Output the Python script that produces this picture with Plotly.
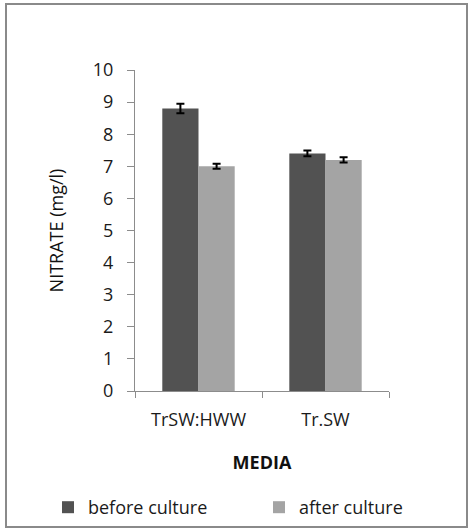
import plotly.graph_objects as go

categories = ["TrSW:HWW", "Tr.SW"]
before_culture = [8.8, 7.4]
after_culture = [7.0, 7.2]
before_err = [0.15, 0.09]
after_err = [0.08, 0.08]
y_ticks = list(range(0, 11))

W, H = 469, 530
L, R, T, B = 135, 80, 70, 139
pw, ph = W - L - R, H - T - B

def px_x(x):
    return (x - L) / pw

def px_y(y):
    return (H - B - y) / ph

font_family = "Open Sans, Lato, sans-serif"
FS = 18

fig = go.Figure()
fig.add_trace(go.Bar(
    name="before culture", x=categories, y=before_culture, legend="legend",
    marker=dict(color="#525252", line=dict(width=0)),
    error_y=dict(type="data", array=before_err, color="#000000", thickness=2, width=4),
))
fig.add_trace(go.Bar(
    name="after culture", x=categories, y=after_culture, legend="legend2",
    marker=dict(color="#a4a4a4", line=dict(width=0)),
    error_y=dict(type="data", array=after_err, color="#000000", thickness=2, width=4),
))

leg_common = dict(orientation="h", xref="container", yref="container",
                  xanchor="left", yanchor="top", font=dict(size=FS, color="#1a1a1a"),
                  itemwidth=30, bgcolor="rgba(0,0,0,0)")

fig.update_layout(
    width=W, height=H,
    margin=dict(l=L, r=R, t=T, b=B, autoexpand=False),
    paper_bgcolor="white", plot_bgcolor="white",
    barmode="group", bargap=0.43, bargroupgap=0,
    font=dict(family=font_family, size=FS, color="#1a1a1a"),
    showlegend=True,
    legend=dict(x=48 / W, y=1 - 489 / H, **leg_common),
    legend2=dict(x=259 / W, y=1 - 489 / H, **leg_common),
    shapes=[dict(type="rect", xref="paper", yref="paper",
                 x0=px_x(6), x1=px_x(467), y0=px_y(527), y1=px_y(4),
                 line=dict(color="#8a8a8a", width=2), fillcolor="rgba(0,0,0,0)", layer="below")],
)

fig.update_xaxes(
    showline=True, linecolor="#8c8c8c", linewidth=1,
    ticks="outside", tickson="boundaries", ticklen=6, tickcolor="#8c8c8c",
    showgrid=False, tickfont=dict(size=FS, color="#1a1a1a"), ticklabelstandoff=12,
    title=dict(text="<b>MEDIA</b>", font=dict(size=FS, color="#111111"), standoff=26),
)
fig.update_yaxes(
    range=[0, 10], tickvals=y_ticks, showline=True, linecolor="#8c8c8c", linewidth=1,
    ticks="outside", ticklen=7, tickcolor="#8c8c8c", showgrid=False, zeroline=False,
    tickfont=dict(size=FS, color="#1a1a1a"), ticklabelstandoff=10,
    title=dict(text="NITRATE (mg/l)", font=dict(size=FS, color="#111111"), standoff=24),
)

fig.write_html(
    "out.html",
    config={"displayModeBar": False},
    post_script="document.body.style.margin='0';document.body.style.overflow='hidden';",
)
